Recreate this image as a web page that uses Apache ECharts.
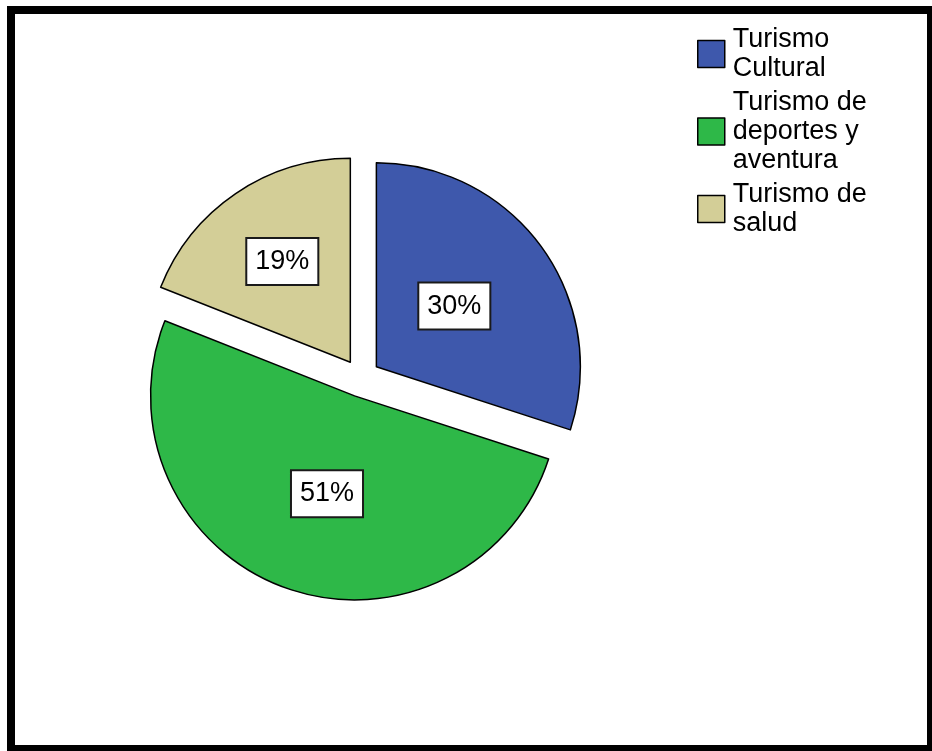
<!DOCTYPE html>
<html>
<head>
<meta charset="utf-8">
<style>
  html, body { margin: 0; padding: 0; background: #ffffff; }
  #chart { width: 932px; height: 751px; }
</style>
<script src="https://cdn.jsdelivr.net/npm/echarts@6/dist/echarts.min.js"></script>
</head>
<body>
<div id="chart"></div>
<script>
// Tourism type shares (percent)
const categories = ['Turismo Cultural', 'Turismo de deportes y aventura', 'Turismo de salud'];
const legendLabels = ['Turismo\nCultural', 'Turismo de\ndeportes y\naventura', 'Turismo de\nsalud'];
const shares = [30, 51, 19];
const sliceColors = ['#3E58AC', '#2EB848', '#D3CE97'];
// small per-slice label nudges (px) from the default inside position
const labelNudge = [[-7, 1], [8, -1], [-9, -14]];

const FONT = '"Liberation Sans", Arial, Helvetica, sans-serif';

const chart = echarts.init(document.getElementById('chart'), null, { renderer: 'canvas' });

const data = categories.map((name, i) => ({
  name: name,
  value: shares[i],
  selected: true,
  itemStyle: { color: sliceColors[i] }
}));

const legendMap = {};
categories.forEach((c, i) => { legendMap[c] = legendLabels[i]; });

chart.setOption({
  animation: false,
  backgroundColor: '#ffffff',
  graphic: [{
    type: 'rect',
    silent: true,
    shape: { x: 11, y: 10, width: 920, height: 739 },
    style: { fill: 'none', stroke: '#000000', lineWidth: 8 },
    z: 100
  }],
  legend: {
    orient: 'vertical',
    left: 697,
    top: 25,
    padding: 0,
    itemWidth: 27,
    itemHeight: 27,
    itemGap: 5,
    icon: 'rect',
    selectedMode: false,
    data: categories,
    formatter: name => legendMap[name],
    textStyle: {
      fontFamily: FONT,
      fontSize: 27,
      lineHeight: 29,
      color: '#000000',
      padding: [0, 0, 0, 3]
    },
    itemStyle: { borderColor: '#000000', borderWidth: 1.5 }
  },
  series: [{
    type: 'pie',
    center: [361, 378],
    radius: 204,
    startAngle: 90,
    clockwise: true,
    selectedMode: 'multiple',
    selectedOffset: 19,
    avoidLabelOverlap: false,
    itemStyle: { borderColor: '#000000', borderWidth: 1.5 },
    emphasis: { disabled: true },
    select: { itemStyle: { borderColor: '#000000', borderWidth: 1.5 } },
    label: {
      show: true,
      position: 'inside',
      formatter: '{c}%',
      fontFamily: FONT,
      fontSize: 27,
      lineHeight: 31,
      color: '#000000',
      backgroundColor: '#ffffff',
      borderColor: '#1a1a1a',
      borderWidth: 2,
      padding: [7, 8, 7, 8]
    },
    labelLayout: params => {
      const n = labelNudge[params.dataIndex] || [0, 0];
      return { dx: n[0], dy: n[1] };
    },
    labelLine: { show: false },
    data: data
  }]
});
</script>
</body>
</html>
